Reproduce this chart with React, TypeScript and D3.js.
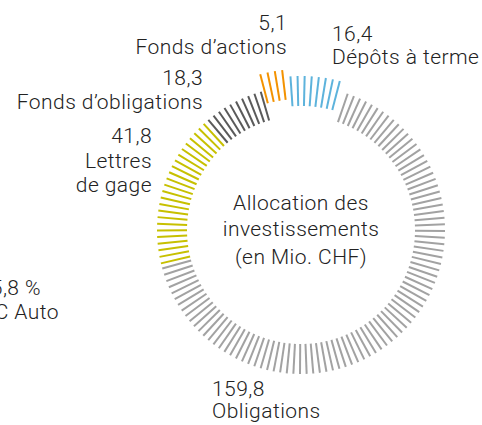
import React from "react";
import * as d3 from "d3";

// ---- data ----
const categories = ["Fonds d’actions", "Dépôts à terme", "Obligations", "Lettres de gage", "Fonds d’obligations"];
const values = [5.1, 16.4, 159.8, 41.8, 18.3];
const valueLabels = ["5,1", "16,4", "159,8", "41,8", "18,3"];
const labelLines = [["Fonds d’actions"], ["Dépôts à terme"], ["Obligations"], ["Lettres", "de gage"], ["Fonds d’obligations"]];
const centerTitle = ["Allocation des", "investissements", "(en Mio. CHF)"];
const sideNote = ["5,8 %", "C Auto"];

// ---- styles ----
const colors = ["#F39200", "#5DB3DC", "#A2A2A2", "#C7C000", "#5A5A5A"];
const explode = [17, 10, 0, 0, 0];
const labelPos: { x: number; y: number; anchor: "start" | "end"; gap: number }[] = [
  { x: 287, y: 30, anchor: "end", gap: 24 },
  { x: 332, y: 41, anchor: "start", gap: 23 },
  { x: 212, y: 396, anchor: "start", gap: 22 },
  { x: 152, y: 143, anchor: "end", gap: 24.5 },
  { x: 203, y: 85, anchor: "end", gap: 23.5 },
];

const W = 482, H = 425;
const cx = 301, cy = 230;
const rIn = 114, rOut = 144;
const FONT = "Roboto, 'Liberation Sans', sans-serif";
const deg = Math.PI / 180;

export default function App() {
  const pie = d3
    .pie<number>()
    .sort(null)
    .value((d) => d)
    .startAngle(-14.5 * deg)
    .endAngle(-14.5 * deg + 2 * Math.PI);
  const arcs = pie(values);
  const step = (2 * Math.PI) / 136;

  const ticks: { a: number; i: number }[] = [];
  arcs.forEach((arc, i) => {
    const span = arc.endAngle - arc.startAngle;
    const n = Math.max(4, Math.round(span / step) - (explode[i] > 0 ? 1 : 0));
    const mid = (arc.startAngle + arc.endAngle) / 2;
    d3.range(n).forEach((k) => ticks.push({ a: mid + (k - (n - 1) / 2) * step, i }));
  });

  return (
    <svg width={W} height={H} style={{ position: "absolute", left: 0, top: 0, display: "block" }}>
      <rect width={W} height={H} fill="#fff" />
      <g transform={`translate(${cx},${cy})`}>
        {ticks.map((t, j) => {
          const s = Math.sin(t.a), c = -Math.cos(t.a);
          const o = explode[t.i];
          return (
            <line
              key={j}
              x1={s * (rIn + o)}
              y1={c * (rIn + o)}
              x2={s * (rOut + o)}
              y2={c * (rOut + o)}
              stroke={colors[t.i]}
              strokeWidth={2}
            />
          );
        })}
      </g>
      <g fontFamily={FONT} fontSize={21} fill="#222" fontWeight={300} letterSpacing={0.45}>
        {centerTitle.map((t, i) => (
          <text key={i} x={cx} y={[210, 236, 264][i]} textAnchor="middle">
            {t}
          </text>
        ))}
        {categories.map((c, i) => {
          const p = labelPos[i];
          return (
            <text key={c} x={p.x} y={p.y} textAnchor={p.anchor}>
              <tspan x={p.x}>{valueLabels[i]}</tspan>
              {labelLines[i].map((l, k) => (
                <tspan key={k} x={p.x} dy={p.gap}>
                  {l}
                </tspan>
              ))}
            </text>
          );
        })}
        <text x={41} y={295} textAnchor="end">{sideNote[0]}</text>
        <text x={59} y={319} textAnchor="end">{sideNote[1]}</text>
      </g>
    </svg>
  );
}
